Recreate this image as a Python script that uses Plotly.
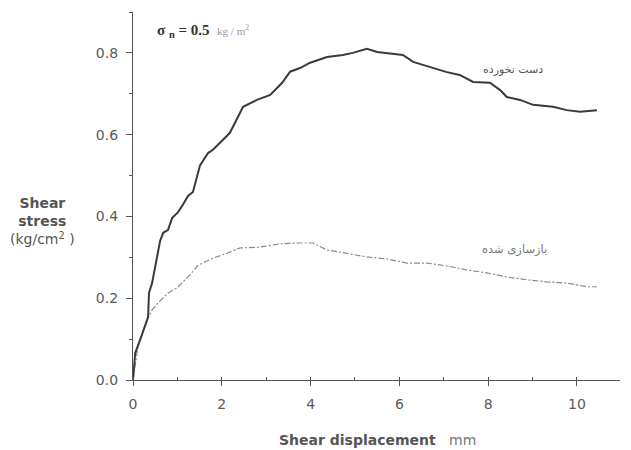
import plotly.graph_objects as go

# Intact sample (دست نخورده)
intact_x = [0, 0.05, 0.16, 0.34, 0.36, 0.43, 0.54, 0.61, 0.68, 0.79, 0.88, 1.01, 1.13, 1.24, 1.35, 1.44,
            1.51, 1.69, 1.80, 2.18, 2.48, 2.79, 3.09, 3.36, 3.54, 3.76, 3.99, 4.37, 4.73, 4.95, 5.27,
            5.50, 5.72, 5.86, 6.08, 6.31, 6.69, 7.07, 7.36, 7.66, 8.04, 8.27, 8.42, 8.72, 9.01, 9.46,
            9.77, 10.07, 10.45]
intact_y = [0, 0.066, 0.098, 0.154, 0.213, 0.237, 0.30, 0.34, 0.36, 0.367, 0.396, 0.41, 0.43, 0.45, 0.46, 0.50,
            0.525, 0.555, 0.563, 0.604, 0.668, 0.685, 0.697, 0.727, 0.754, 0.763, 0.776, 0.79, 0.795, 0.80, 0.81,
            0.802, 0.80, 0.797, 0.795, 0.778, 0.766, 0.753, 0.746, 0.729, 0.727, 0.709, 0.692, 0.685, 0.673, 0.668,
            0.66, 0.656, 0.66]

# Reconstructed sample (بازسازی شده)
recon_x = [0, 0.05, 0.11, 0.23, 0.32, 0.43, 0.56, 0.79, 0.99, 1.10, 1.28, 1.46, 1.80, 2.12, 2.41, 2.86,
           3.31, 3.76, 4.05, 4.37, 4.73, 5.27, 5.72, 6.17, 6.62, 7.07, 7.52, 7.97, 8.42, 8.87, 9.32,
           9.77, 10.23, 10.45]
recon_y = [0, 0.042, 0.08, 0.122, 0.147, 0.171, 0.188, 0.213, 0.225, 0.237, 0.257, 0.28, 0.298, 0.31, 0.323, 0.325,
           0.333, 0.335, 0.335, 0.318, 0.311, 0.301, 0.296, 0.286, 0.286, 0.279, 0.269, 0.262, 0.252, 0.245, 0.24,
           0.237, 0.228, 0.228]

x_ticks = [0, 2, 4, 6, 8, 10]
y_ticks = [0.0, 0.2, 0.4, 0.6, 0.8]
y_tick_labels = ["0.0", "0.2", "0.4", "0.6", "0.8"]

fig = go.Figure()
fig.add_trace(go.Scatter(x=recon_x, y=recon_y, mode="lines",
                         line=dict(color="#8a8a8a", width=1.2, dash="6px,2px,2px,2px")))
fig.add_trace(go.Scatter(x=intact_x, y=intact_y, mode="lines",
                         line=dict(color="#3a3a3a", width=2)))

axis_color = "#555555"
tick_font = dict(family="DejaVu Sans", size=14, color="#5a5a5a")
fig.update_xaxes(range=[0, 10.97], showgrid=False, zeroline=False, showline=True,
                 linecolor=axis_color, linewidth=1.2, ticks="outside", ticklen=5,
                 tickcolor=axis_color, tickvals=x_ticks, tickfont=tick_font,
                 ticklabelstandoff=6,
                 minor=dict(dtick=1, ticks="inside", ticklen=3, tickcolor=axis_color))
fig.update_yaxes(range=[0, 0.9], showgrid=False, zeroline=False, showline=True,
                 linecolor=axis_color, linewidth=1.2, ticks="outside", ticklen=6,
                 tickcolor=axis_color, tickvals=y_ticks, ticktext=y_tick_labels,
                 tickfont=tick_font, ticklabelstandoff=5,
                 minor=dict(dtick=0.1, ticks="outside", ticklen=3, tickcolor=axis_color))

# Axis titles
fig.add_annotation(xref="paper", yref="paper", x=(42 - 133) / 487, y=(380 - 221) / 368,
                   text="<b>Shear</b><br><b>stress</b><br>(kg/cm<sup>2</sup> )", showarrow=False,
                   xanchor="center", yanchor="middle", align="center",
                   font=dict(family="DejaVu Sans", size=14, color="#555555"))
fig.add_annotation(xref="paper", yref="paper", x=(377 - 133) / 487, y=(380 - 440) / 368,
                   text="<b>Shear displacement</b>   <span style='color:#777'>mm</span>", showarrow=False,
                   xanchor="center", yanchor="middle",
                   font=dict(family="DejaVu Sans", size=14, color="#555555"))

# In-plot labels
fig.add_annotation(x=0.5, y=0.854, xref="x", yref="y", xanchor="left", yanchor="middle",
                   text="<b>σ <sub>n</sub> = 0.5</b>  <span style='font-size:11px;color:#999'>kg / m<sup>2</sup></span>",
                   showarrow=False, font=dict(family="Liberation Serif", size=15, color="#333333"))
fig.add_annotation(x=8.55, y=0.76, xref="x", yref="y", xanchor="center", yanchor="middle",
                   text="دست نخورده", showarrow=False,
                   font=dict(family="DejaVu Sans", size=11, color="#555555"))
fig.add_annotation(x=8.6, y=0.32, xref="x", yref="y", xanchor="center", yanchor="middle",
                   text="بازسازی شده", showarrow=False,
                   font=dict(family="DejaVu Sans", size=11.5, color="#777777"))

fig.update_layout(width=631, height=450, margin=dict(l=133, r=11, t=12, b=70),
                  plot_bgcolor="white", paper_bgcolor="white", showlegend=False)

fig.write_html("out.html")
